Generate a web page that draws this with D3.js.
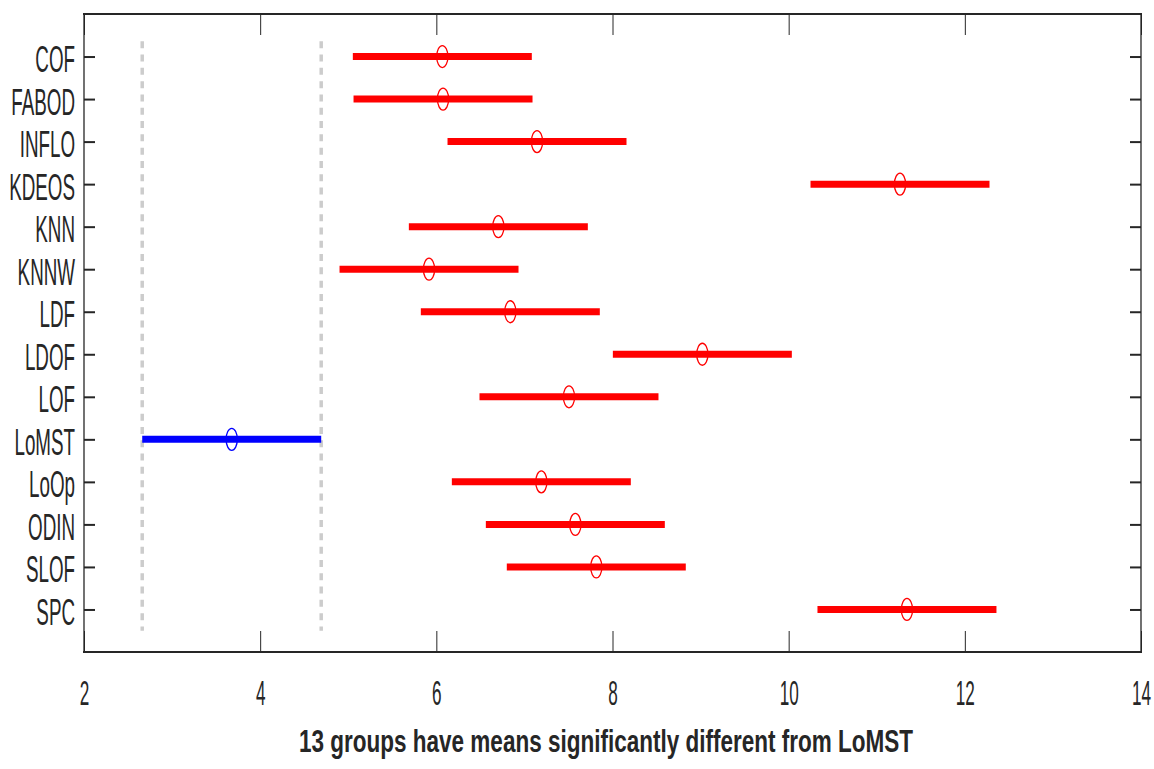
<!DOCTYPE html>
<html>
<head>
<meta charset="utf-8">
<script src="https://cdnjs.cloudflare.com/ajax/libs/d3/7.8.5/d3.min.js"></script>
<style>
  body { margin: 0; background: #fff; }
  svg { display: block; font-family: "Liberation Sans", Arial, sans-serif; }
</style>
</head>
<body>
<svg id="chart" width="1154" height="769"></svg>
<script>
// groups, top to bottom
const groups = ["COF", "FABOD", "INFLO", "KDEOS", "KNN", "KNNW", "LDF", "LDOF",
                "LOF", "LoMST", "LoOp", "ODIN", "SLOF", "SPC"];
// estimated group means (mean ranks)
const means = [6.068, 6.076, 7.143, 11.264, 6.704, 5.917, 6.840, 9.020,
               7.506, 3.677, 7.192, 7.578, 7.816, 11.343];
// comparison interval half width
const halfWidth = 1.016;
const control = "LoMST";
const xTicks = [2, 4, 6, 8, 10, 12, 14];
const title = "13 groups have means significantly different from LoMST";

const svg = d3.select("#chart");
const plotLeft = 84, plotRight = 1141, plotTop = 14, plotBottom = 652;
const axisColor = "#262626";

const x = d3.scaleLinear().domain([2, 14]).range([plotLeft, plotRight]);
const y = d3.scaleLinear().domain([0, groups.length + 1]).range([plotBottom, plotTop]);

let rows = groups.map(function(g, i) {
    return { name: g, level: groups.length - i, mean: means[i],
             lo: means[i] - halfWidth, hi: means[i] + halfWidth };
});
let ctrl = rows.find(function(d) { return d.name === control; });

// dashed reference lines at the control interval
svg.append("g")
    .selectAll("line")
    .data([ctrl.lo, ctrl.hi])
    .enter().append("line")
    .attr("x1", function(d) { return x(d); })
    .attr("x2", function(d) { return x(d); })
    .attr("y1", y(groups.length + 0.5))
    .attr("y2", y(0.5))
    .attr("stroke", "#cccccc")
    .attr("stroke-width", 3.5)
    .attr("stroke-dasharray", "7 6.3")
    .attr("stroke-dashoffset", -6);

// interval bars
let marks = svg.append("g").selectAll("g")
    .data(rows)
    .enter().append("g");

marks.append("line")
    .attr("x1", function(d) { return x(d.lo); })
    .attr("x2", function(d) { return x(d.hi); })
    .attr("y1", function(d) { return y(d.level); })
    .attr("y2", function(d) { return y(d.level); })
    .attr("stroke", function(d) { return d.name === control ? "#0000ff" : "#ff0000"; })
    .attr("stroke-width", 7);

marks.append("ellipse")
    .attr("cx", function(d) { return x(d.mean); })
    .attr("cy", function(d) { return y(d.level); })
    .attr("rx", 5.6)
    .attr("ry", 11)
    .attr("fill", "none")
    .attr("stroke", function(d) { return d.name === control ? "#0000ff" : "#ff0000"; })
    .attr("stroke-width", 1.3);

// axes
let levels = rows.map(function(d) { return d.level; });
let gx = svg.append("g")
    .attr("transform", "translate(0," + plotBottom + ")")
    .call(d3.axisBottom(x).tickValues(xTicks).tickSize(-21).tickSizeOuter(0).tickFormat(d3.format("d")));
let gxTop = svg.append("g")
    .attr("transform", "translate(0," + plotTop + ")")
    .call(d3.axisTop(x).tickValues(xTicks).tickSize(-21).tickSizeOuter(0).tickFormat(""));
let gy = svg.append("g")
    .attr("transform", "translate(" + plotLeft + ",0)")
    .call(d3.axisLeft(y).tickValues(levels)
        .tickSize(-11).tickSizeOuter(0)
        .tickFormat(function(v) { return groups[groups.length - v]; }));
let gyRight = svg.append("g")
    .attr("transform", "translate(" + plotRight + ",0)")
    .call(d3.axisRight(y).tickValues(levels)
        .tickSize(-11).tickSizeOuter(0).tickFormat(""));

[gx, gxTop, gy, gyRight].forEach(function(g) {
    g.select(".domain").remove();
    g.selectAll(".tick line").attr("stroke", axisColor);
});
gx.selectAll(".tick line").attr("stroke-width", 1);
gxTop.selectAll(".tick line").attr("stroke-width", 1);
gy.selectAll(".tick line").attr("stroke-width", 2);
gyRight.selectAll(".tick line").attr("stroke-width", 2);

// the labels are drawn narrow, as in the reference
const sxTick = 0.49, syLab = 0.515;
gx.selectAll(".tick text")
    .attr("font-size", 35)
    .attr("font-family", "Liberation Sans, Arial, sans-serif")
    .attr("fill", axisColor)
    .attr("y", 28)
    .attr("transform", "scale(" + sxTick + ",1)");

gy.selectAll(".tick text")
    .attr("font-size", 36.5)
    .attr("font-family", "Liberation Sans, Arial, sans-serif")
    .attr("fill", axisColor)
    .attr("x", -9 / syLab)
    .attr("dy", 15)
    .attr("transform", "scale(" + syLab + ",1)");

// box
svg.append("g")
    .selectAll("line")
    .data([
        { x1: plotLeft, y1: plotBottom, x2: plotRight, y2: plotBottom, w: 2 },
        { x1: plotLeft, y1: plotTop, x2: plotRight, y2: plotTop, w: 2 },
        { x1: plotLeft, y1: plotTop, x2: plotLeft, y2: plotBottom, w: 1.3 },
        { x1: plotRight, y1: plotTop, x2: plotRight, y2: plotBottom, w: 1.3 }
    ])
    .enter().append("line")
    .attr("x1", function(d) { return d.x1; })
    .attr("y1", function(d) { return d.y1; })
    .attr("x2", function(d) { return d.x2; })
    .attr("y2", function(d) { return d.y2; })
    .attr("stroke", axisColor)
    .attr("stroke-width", function(d) { return d.w; })
    .attr("stroke-linecap", "square");

// x label
svg.append("text")
    .attr("x", 606)
    .attr("y", 752)
    .attr("text-anchor", "middle")
    .attr("font-size", 32)
    .attr("font-weight", "bold")
    .attr("fill", axisColor)
    .attr("textLength", 614)
    .attr("lengthAdjust", "spacingAndGlyphs")
    .text(title);
</script>
</body>
</html>
